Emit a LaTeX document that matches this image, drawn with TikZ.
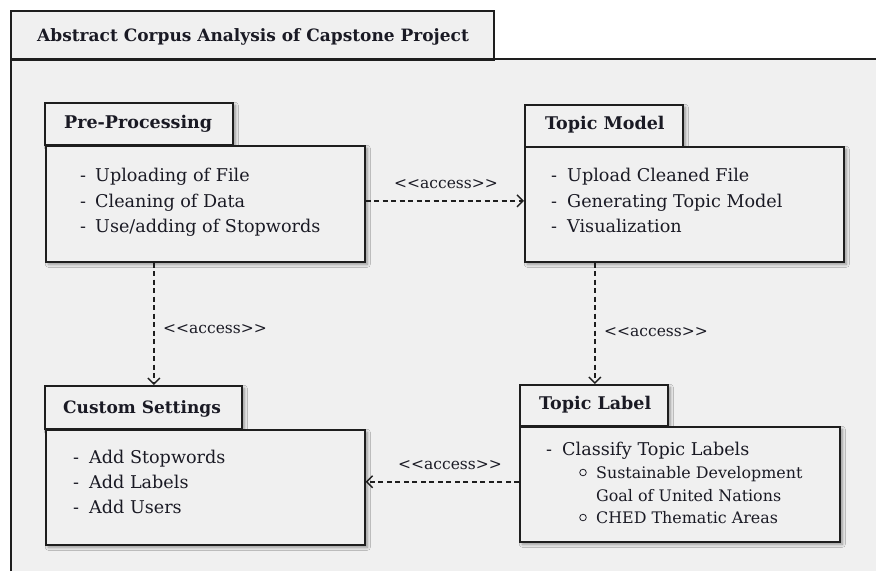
\documentclass[tikz,border=0pt]{standalone}
\usepackage{fontspec}
\setmainfont{DejaVu Serif}
\usetikzlibrary{arrows.meta,shadows.blur}

\definecolor{bg}{HTML}{F0F0F0}
\definecolor{ink}{HTML}{1A1A24}
\definecolor{edge}{HTML}{1E1E1E}

% stereotype text; the kerns keep << and >> from turning into guillemets
\newcommand{\accesstag}{<\kern0pt<access>\kern0pt>}

\tikzset{
  shade3/.style={blur shadow={shadow xshift=2.5pt, shadow yshift=-2.5pt,
      shadow blur radius=3pt, shadow blur steps=8, shadow opacity=40}},
  pkgbox/.style={draw=edge, fill=bg, line width=1.6pt, inner sep=0pt,
      anchor=north west, shade3},
  headtext/.style={font=\bfseries\fontsize{17.5}{20}\selectfont, text=ink,
      inner sep=0pt, anchor=base west},
  itemtext/.style={font=\fontsize{17.6}{20}\selectfont, text=ink,
      inner sep=0pt, anchor=base west},
  subitemtext/.style={itemtext, font=\fontsize{15.9}{19}\selectfont},
  stereo/.style={font=\fontsize{15.5}{18}\selectfont, text=ink,
      inner sep=0pt, anchor=base},
  accessline/.style={draw=edge, line width=1.4pt, dash pattern=on 5pt off 3.5pt,
      -{Straight Barb[length=6pt, width=12pt, line width=1.4pt]}},
}

\begin{document}
\begin{tikzpicture}[x=1pt, y=-1pt]
\useasboundingbox (0,0) rectangle (876,571);
\fill[white] (0,0) rectangle (876,571);

% outer package frame with its name tab
\fill[bg] (11,59) rectangle (876,571);
\node[draw=edge, fill=bg, line width=1.6pt, inner sep=0pt, anchor=north west,
      minimum width=483pt, minimum height=49pt] (frametab) at (10,10) {};
\draw[edge, line width=1.6pt] (11,571) -- (11,59) -- (876,59);
\node[headtext, font=\bfseries\fontsize{17}{20}\selectfont] (frametitle) at (37,41)
  {Abstract Corpus Analysis of Capstone Project};

% Pre-Processing
\node[pkgbox, minimum width=188pt, minimum height=42pt] (ptab) at (44,102) {};
\node[pkgbox, minimum width=319pt, minimum height=116pt] (pbody) at (45,145) {};
\node[headtext] (ptitle) at (64,128) {Pre-Processing};
\node[itemtext] (pd1) at (80,181) {-};
\node[itemtext] (pi1) at (95,181) {Uploading of File};
\node[itemtext] (pd2) at (80,207) {-};
\node[itemtext] (pi2) at (95,207) {Cleaning of Data};
\node[itemtext] (pd3) at (80,232) {-};
\node[itemtext] (pi3) at (95,232) {Use/adding of Stopwords};

% Topic Model
\node[pkgbox, minimum width=158pt, minimum height=42pt] (ttab) at (524,104) {};
\node[pkgbox, minimum width=319pt, minimum height=115pt] (tbody) at (524,146) {};
\node[headtext] (ttitle) at (545,129) {Topic Model};
\node[itemtext] (td1) at (551,181) {-};
\node[itemtext] (ti1) at (567,181) {Upload Cleaned File};
\node[itemtext] (td2) at (551,207) {-};
\node[itemtext] (ti2) at (567,207) {Generating Topic Model};
\node[itemtext] (td3) at (551,232) {-};
\node[itemtext] (ti3) at (567,232) {Visualization};

% Custom Settings
\node[pkgbox, minimum width=197pt, minimum height=43pt] (ctab) at (44,385) {};
\node[pkgbox, minimum width=319pt, minimum height=115pt] (cbody) at (45,429) {};
\node[headtext, font=\bfseries\fontsize{17}{20}\selectfont] (ctitle) at (63,413) {Custom Settings};
\node[itemtext] (cd1) at (73,463) {-};
\node[itemtext] (ci1) at (89,463) {Add Stopwords};
\node[itemtext] (cd2) at (73,488) {-};
\node[itemtext] (ci2) at (89,488) {Add Labels};
\node[itemtext] (cd3) at (73,513) {-};
\node[itemtext] (ci3) at (89,513) {Add Users};

% Topic Label
\node[pkgbox, minimum width=148pt, minimum height=41pt] (ltab) at (519,384) {};
\node[pkgbox, minimum width=320pt, minimum height=115pt] (lbody) at (519,426) {};
\node[headtext] (ltitle) at (539,409) {Topic Label};
\node[itemtext] (ld1) at (546,455) {-};
\node[itemtext] (li1) at (562,455) {Classify Topic Labels};
\draw[ink, line width=0.8pt] (583,472.5) circle[radius=3.3pt];
\node[subitemtext] (li2) at (596,478) {Sustainable Development};
\node[subitemtext] (li2b) at (596,501) {Goal of United Nations};
\draw[ink, line width=0.8pt] (583,517.5) circle[radius=3.3pt];
\node[subitemtext] (li3) at (596,523) {CHED Thematic Areas};

% access dependencies
\draw[accessline] ([yshift=3pt]pbody.east) -- ([yshift=3pt]pbody.east -| tbody.west);
\node[stereo] (acc1) at (446,188) {\accesstag};

\draw[accessline] ([xshift=-51.5pt]pbody.south) -- ([xshift=-51.5pt]pbody.south |- ctab.north);
\node[stereo, anchor=base west] (acc2) at (163,333) {\accesstag};

\draw[accessline] ([xshift=-89.5pt]tbody.south) -- ([xshift=-89.5pt]tbody.south |- ltab.north);
\node[stereo, anchor=base west] (acc3) at (604,336) {\accesstag};

\draw[accessline] ([yshift=2.5pt]lbody.west) -- ([yshift=2.5pt]lbody.west -| cbody.east);
\node[stereo] (acc4) at (450,469) {\accesstag};
\end{tikzpicture}
\end{document}
